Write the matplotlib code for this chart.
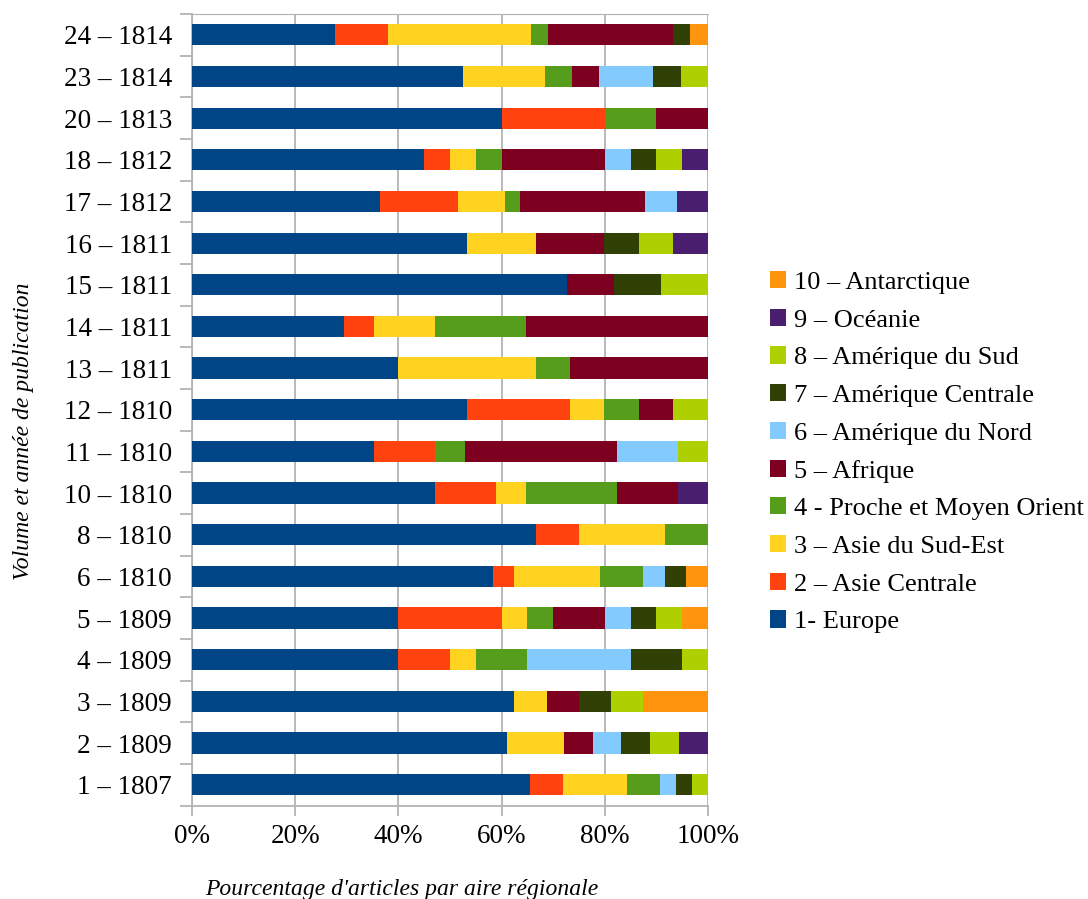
import numpy as np
import matplotlib
matplotlib.use('Agg')
import matplotlib.pyplot as plt
from matplotlib.patches import Patch

plt.rcParams['font.family'] = ['Liberation Serif', 'DejaVu Serif']

# volumes, bottom to top
volumes = ['1 – 1807', '2 – 1809', '3 – 1809', '4 – 1809', '5 – 1809', '6 – 1810',
           '8 – 1810', '10 – 1810', '11 – 1810', '12 – 1810', '13 – 1811', '14 – 1811',
           '15 – 1811', '16 – 1811', '17 – 1812', '18 – 1812', '20 – 1813', '23 – 1814',
           '24 – 1814']

# share of articles (%) per region
europe      = [65.6, 61.1, 62.5, 40, 40, 58.3, 66.7, 47.1, 35.3, 53.3, 40.0, 29.4, 72.7, 53.3, 36.4, 45, 60, 52.6, 27.6]
asie_centr  = [6.3, 0, 0, 10, 20, 4.2, 8.3, 11.8, 11.8, 20.0, 0, 5.9, 0, 0, 15.2, 5, 20, 0, 10.3]
asie_se     = [12.5, 11.1, 6.25, 5, 5, 16.7, 16.7, 5.9, 0, 6.7, 26.7, 11.8, 0, 13.3, 9.1, 5, 0, 15.8, 27.6]
proche      = [6.3, 0, 0, 10, 5, 8.3, 8.3, 17.6, 5.9, 6.7, 6.7, 17.6, 0, 0, 3.0, 5, 10, 5.3, 3.4]
afrique     = [0, 5.6, 6.25, 0, 10, 0, 0, 11.8, 29.4, 6.7, 26.7, 35.3, 9.1, 13.3, 24.2, 20, 10, 5.3, 24.1]
am_nord     = [3.1, 5.6, 0, 20, 5, 4.2, 0, 0, 11.8, 0, 0, 0, 0, 0, 6.1, 5, 0, 10.5, 0]
am_centrale = [3.1, 5.6, 6.25, 10, 5, 4.2, 0, 0, 0, 0, 0, 0, 9.1, 6.7, 0, 5, 0, 5.3, 3.4]
am_sud      = [3.1, 5.6, 6.25, 5, 5, 0, 0, 0, 5.9, 6.7, 0, 0, 9.1, 6.7, 0, 5, 0, 5.3, 0]
oceanie     = [0, 5.6, 0, 0, 0, 0, 0, 5.9, 0, 0, 0, 0, 0, 6.7, 6.1, 5, 0, 0, 0]
antarctique = [0, 0, 12.5, 0, 5, 4.2, 0, 0, 0, 0, 0, 0, 0, 0, 0, 0, 0, 0, 3.4]

series = [europe, asie_centr, asie_se, proche, afrique, am_nord, am_centrale, am_sud, oceanie, antarctique]
labels = ['1- Europe', '2 – Asie Centrale', '3 – Asie du Sud-Est', '4 - Proche et Moyen Orient',
          '5 – Afrique', '6 – Amérique du Nord', '7 – Amérique Centrale', '8 – Amérique du Sud',
          '9 – Océanie', '10 – Antarctique']
colors = ['#004586', '#ff420e', '#ffd320', '#579d1c', '#7e0021',
          '#83caff', '#314004', '#aecf00', '#4b1f6f', '#ff950e']

data = np.array(series, dtype=float)
data = data / data.sum(axis=0) * 100  # percent stacked

fig = plt.figure(figsize=(10.88, 8.99), dpi=100)
ax = fig.add_axes([0.1765, 0.104, 0.4742, 0.8804])

y = np.arange(len(volumes))
left = np.zeros(len(volumes))
for i in range(len(series)):
    ax.barh(y, data[i], left=left, height=0.51, color=colors[i], zorder=3)
    left = left + data[i]

ax.set_xlim(0, 100)
ax.set_ylim(-0.5, len(volumes) - 0.5)
ax.set_xticks(np.arange(0, 101, 20))
ax.set_xticklabels(['{}%'.format(v) for v in range(0, 101, 20)])
ax.set_yticks(y)
ax.set_yticklabels(volumes)
ax.set_yticks(np.arange(-0.5, len(volumes), 1), minor=True)

gc = '#b3b3b3'
ax.xaxis.grid(True, color=gc, linewidth=1.3, zorder=0)
ax.tick_params(axis='y', which='major', length=0, pad=14.4, labelsize=19.5)
ax.tick_params(axis='y', which='minor', length=9, width=1.3, color=gc)
ax.tick_params(axis='x', length=7, width=1.3, color=gc, pad=6, labelsize=19.5)
for s in ['left', 'bottom', 'top']:
    ax.spines[s].set_color(gc)
    ax.spines[s].set_linewidth(1.3)
ax.spines['top'].set_linewidth(0.8)
ax.spines['right'].set_visible(False)

fig.text(0.022, 0.52, 'Volume et année de publication', rotation=90, style='italic',
         fontsize=17, ha='center', va='center')
fig.text(0.369, 0.011, "Pourcentage d'articles par aire régionale", style='italic',
         fontsize=17, ha='center', va='center')

handles = [Patch(facecolor=colors[i], edgecolor='none') for i in range(len(series))][::-1]
fig.legend(handles, labels[::-1], loc='upper left', bbox_to_anchor=(0.7077, 0.6985),
           frameon=False, fontsize=19, handlelength=0.62, handleheight=0.62,
           handletextpad=0.3, labelspacing=0.563, borderpad=0, borderaxespad=0)

plt.savefig('out.png', dpi=100)
